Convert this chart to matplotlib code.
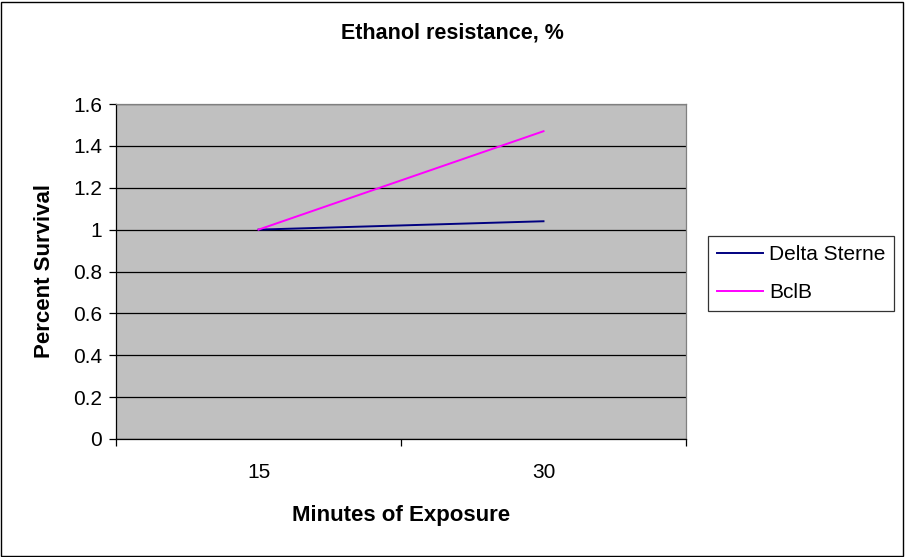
import matplotlib.pyplot as plt
from matplotlib.patches import Rectangle

categories = ['15', '30']
delta_sterne = [1.0, 1.04]
bclb = [1.0, 1.47]
y_ticks = [0, 0.2, 0.4, 0.6, 0.8, 1, 1.2, 1.4, 1.6]

plt.rcParams['font.family'] = ['Liberation Sans', 'DejaVu Sans']

fig = plt.figure(figsize=(9.05, 5.57), dpi=100)
fig.patches.append(Rectangle((0.0015, 0.002), 0.996, 0.995, transform=fig.transFigure,
                             fill=False, edgecolor='black', linewidth=1))

ax = fig.add_axes([116/905, 1 - 439/557, 570/905, 335/557])
ax.set_facecolor('#C0C0C0')

x = list(range(len(categories)))
ax.plot(x, delta_sterne, color='#000080', linewidth=1.4, label='Delta Sterne')
ax.plot(x, bclb, color='#FF00FF', linewidth=1.4, label='BclB')

ax.set_xlim(-0.5, len(categories) - 0.5)
ax.set_ylim(0, 1.6)
ax.set_yticks(y_ticks)
ax.set_yticklabels([f'{v:g}' for v in y_ticks])
ax.yaxis.grid(True, color='black', linewidth=0.9)
ax.set_axisbelow(True)

ax.set_xticks(x)
ax.set_xticklabels(categories)
ax.set_xticks([i - 0.5 for i in range(len(categories) + 1)], minor=True)
ax.tick_params(axis='x', which='major', length=0, pad=17, labelsize=15)
ax.tick_params(axis='x', which='minor', length=5, direction='out', width=0.9)
ax.tick_params(axis='y', length=5, direction='out', width=0.9, labelsize=15, pad=5)

for side in ['left', 'bottom']:
    ax.spines[side].set_color('black')
    ax.spines[side].set_linewidth(0.9)
for side in ['top', 'right']:
    ax.spines[side].set_color('#808080')
    ax.spines[side].set_linewidth(0.9)

ax.set_xlabel('Minutes of Exposure', fontsize=16, fontweight='bold', labelpad=17)
ax.set_ylabel('Percent Survival', fontsize=16, fontweight='bold', labelpad=13)
fig.text(0.5, 1 - 33/557, 'Ethanol resistance, %', ha='center', va='center',
         fontsize=15.5, fontweight='bold')

leg = ax.legend(loc='center left', bbox_to_anchor=(708/905, 1 - 311/557, 186/905, 75/557),
                bbox_transform=fig.transFigure, mode='expand', fontsize=15,
                frameon=True, fancybox=False, edgecolor='black', borderaxespad=0,
                handlelength=2.2, handletextpad=0.3, labelspacing=0.9, borderpad=0.45)
leg.get_frame().set_linewidth(0.9)

fig.savefig('out.png', dpi=100)
